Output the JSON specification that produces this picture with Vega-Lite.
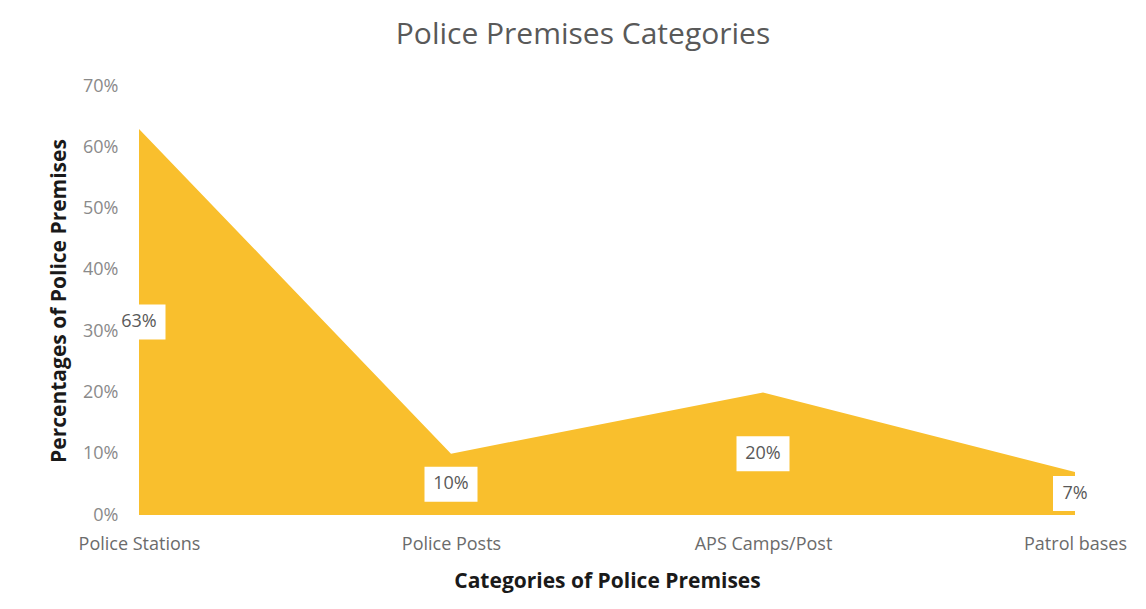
{
  "$schema": "https://vega.github.io/schema/vega-lite/v6.json",
  "width": 936,
  "height": 429,
  "autosize": {"type": "none"},
  "padding": {"left": 139, "top": 86, "right": 71, "bottom": 94},
  "background": "white",
  "title": {
    "text": "Police Premises Categories",
    "font": "Open Sans",
    "fontSize": 30,
    "fontWeight": "normal",
    "color": "#595959",
    "frame": "group",
    "anchor": "middle",
    "baseline": "alphabetic",
    "offset": 3,
    "dx": -24
  },
  "data": {
    "values": [
      {"category": "Police Stations", "value": 0.63},
      {"category": "Police Posts", "value": 0.10},
      {"category": "APS Camps/Post", "value": 0.20},
      {"category": "Patrol bases", "value": 0.07}
    ]
  },
  "encoding": {
    "x": {
      "field": "category",
      "type": "nominal",
      "sort": null,
      "scale": {"type": "point", "padding": 0},
      "axis": {
        "title": "Categories of Police Premises",
        "titleFont": "Open Sans",
        "titleFontSize": 21,
        "titleFontWeight": "bold",
        "titleColor": "#1a1a1a",
        "titlePadding": 17,
        "labelFont": "Open Sans",
        "labelFontSize": 18,
        "labelColor": "#6b6b6b",
        "labelAngle": 0,
        "labelPadding": 20,
        "domain": false,
        "ticks": false,
        "grid": false
      }
    }
  },
  "layer": [
    {
      "mark": {"type": "area", "color": "#F9BF2D", "opacity": 1, "interpolate": "linear"},
      "encoding": {
        "y": {
          "field": "value",
          "type": "quantitative",
          "scale": {"domain": [0, 0.7]},
          "axis": {
            "title": "Percentages of Police Premises",
            "titleFont": "Open Sans",
            "titleFontSize": 21,
            "titleFontWeight": "bold",
            "titleColor": "#1a1a1a",
            "titlePadding": 13,
            "labelFont": "Open Sans",
            "labelFontSize": 18,
            "labelColor": "#8a8a8a",
            "labelPadding": 21,
            "values": [0, 0.1, 0.2, 0.3, 0.4, 0.5, 0.6, 0.7],
            "format": ".0%",
            "domain": false,
            "ticks": false,
            "grid": false,
            "zindex": 1
          }
        }
      }
    },
    {
      "mark": {"type": "point", "filled": true, "opacity": 1, "strokeWidth": 0},
      "encoding": {
        "y": {"field": "value", "type": "quantitative", "scale": {"domain": [0, 1.4]}, "axis": null},
        "shape": {"condition": {"test": "datum.value < 0.1", "value": "M-1,-0.795H1V0.795H-1Z"}, "value": "M-1,-0.66H1V0.66H-1Z"},
        "size": {"condition": {"test": "datum.value < 0.1", "value": 1936}, "value": 2809},
        "color": {"value": "white"}
      }
    },
    {
      "mark": {"type": "text", "font": "Open Sans", "fontSize": 18, "color": "#595959", "align": "center", "baseline": "middle"},
      "encoding": {
        "y": {"field": "value", "type": "quantitative", "scale": {"domain": [0, 1.4]}, "axis": null},
        "text": {"field": "value", "type": "quantitative", "format": ".0%"}
      }
    }
  ],
  "resolve": {"scale": {"y": "independent"}},
  "config": {"view": {"stroke": null}}
}
